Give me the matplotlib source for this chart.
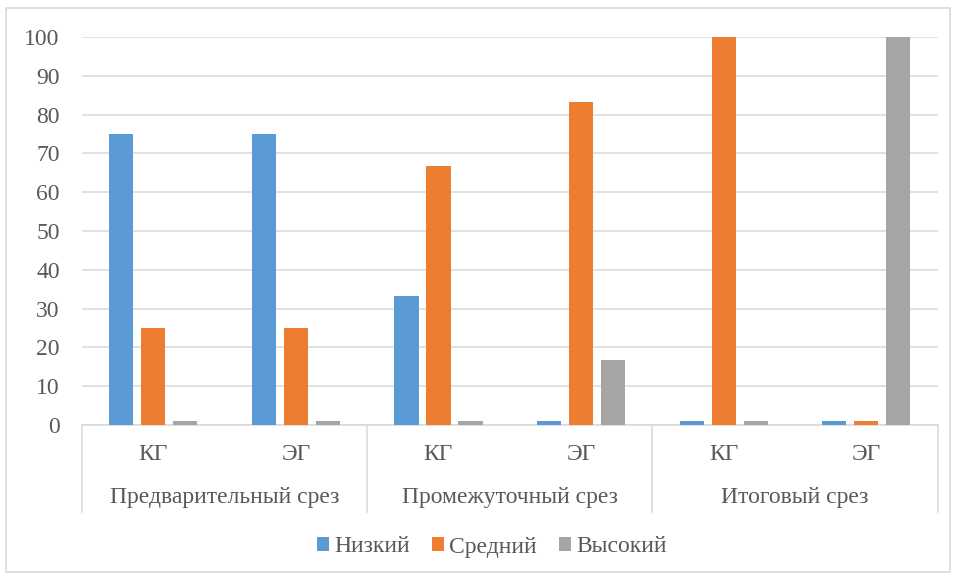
import matplotlib
matplotlib.use("Agg")
import matplotlib.pyplot as plt
from matplotlib.patches import Rectangle, Patch
from matplotlib.lines import Line2D
import numpy as np

plt.rcParams['font.family'] = ['Liberation Serif', 'DejaVu Serif']

stages = ["Предварительный срез", "Промежуточный срез", "Итоговый срез"]
groups = ["КГ", "ЭГ"]
series_names = ["Низкий", "Средний", "Высокий"]
low = [75, 75, 33.3, 1, 1, 1]
mid = [25, 25, 66.7, 83.3, 100, 1]
high = [1, 1, 1, 16.7, 1, 100]
y_ticks = [0, 10, 20, 30, 40, 50, 60, 70, 80, 90, 100]

colors = ["#5B9BD5", "#ED7D31", "#A5A5A5"]
text_color = "#595959"
grid_color = "#D9D9D9"
fs = 17

W, H = 956, 578
fig = plt.figure(figsize=(W / 100, H / 100), dpi=100)

# outer chart frame
fig.patches.append(Rectangle((6 / W, 6 / H), 944 / W, 564 / H, transform=fig.transFigure,
                             fill=False, edgecolor=grid_color, linewidth=1.2))

left, right, top, bottom = 82, 937.6, 37, 425
ax = fig.add_axes([left / W, (H - bottom) / H, (right - left) / W, (bottom - top) / H])

n = len(low)
x = np.arange(n)
width = 0.17
step = 0.224
for i, vals in enumerate([low, mid, high]):
    ax.bar(x + (i - 1) * step, vals, width=width, color=colors[i], zorder=3)

ax.set_xlim(-0.5, n - 0.5)
ax.set_ylim(0, 100)
ax.set_yticks(y_ticks)
ax.tick_params(axis='y', length=0, pad=16, labelsize=fs, labelcolor=text_color)
ax.set_xticks([])
ax.grid(axis='y', color=grid_color, linewidth=1.1, zorder=0)
for s in ["top", "right", "left"]:
    ax.spines[s].set_visible(False)
ax.spines["bottom"].set_color(grid_color)
ax.spines["bottom"].set_linewidth(1.1)

# two-level category axis
axis_h = bottom - top
div_depth = (512 - bottom) / axis_h
trans = ax.get_xaxis_transform()
for xd in [-0.5, 1.5, 3.5, 5.5]:
    ax.add_line(Line2D([xd, xd], [0, -div_depth], transform=trans, color=grid_color,
                       linewidth=1.1, clip_on=False))
for k in range(n):
    ax.text(k, -(455 - bottom) / axis_h, groups[k % 2], transform=trans, ha='center',
            va='center', fontsize=fs, color=text_color)
for j, st in enumerate(stages):
    ax.text(2 * j + 0.5, -(497 - bottom) / axis_h, st, transform=trans, ha='center',
            va='center', fontsize=fs, color=text_color)

handles = [Patch(facecolor=c, edgecolor='none') for c in colors]
fig.legend(handles, series_names, loc='center', bbox_to_anchor=(492 / W, (H - 547) / H),
           ncol=3, frameon=False, fontsize=fs, handlelength=0.5, handleheight=0.5,
           handletextpad=0.22, columnspacing=0.95, labelcolor=text_color)

fig.savefig("out.png", dpi=100)
